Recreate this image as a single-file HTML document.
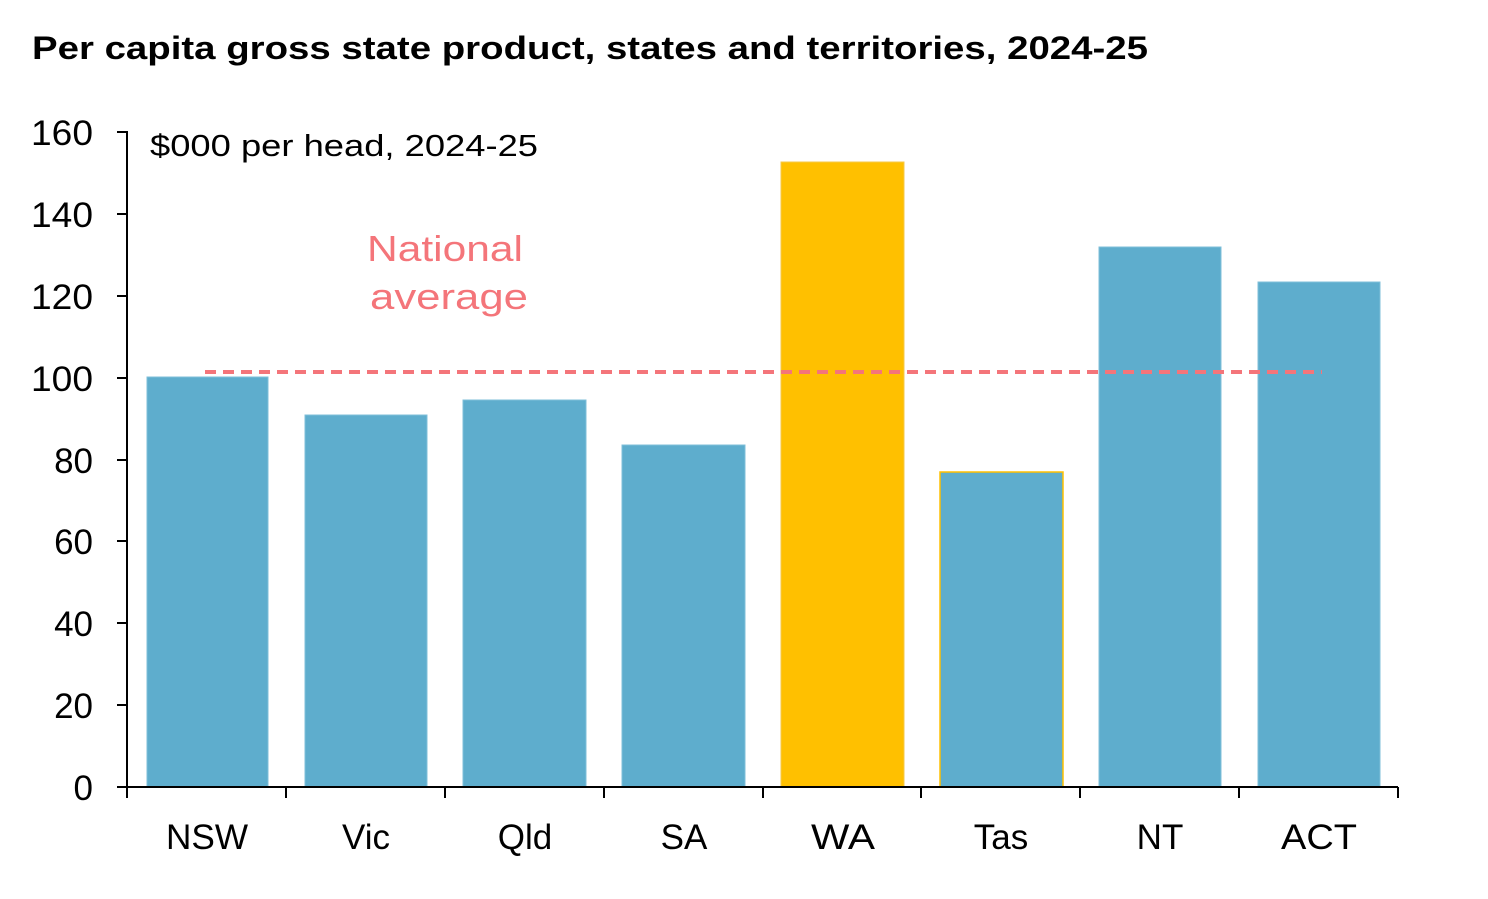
<!DOCTYPE html>
<html><head><meta charset="utf-8"><style>
html,body{margin:0;padding:0;background:#fff;}
svg text{font-family:"Liberation Sans",sans-serif;}
</style></head><body>
<svg width="1488" height="894" viewBox="0 0 1488 894" xmlns="http://www.w3.org/2000/svg">
<rect width="1488" height="894" fill="#fff"/>
<text x="32" y="59" font-size="32" font-weight="bold" fill="#000" textLength="1116" lengthAdjust="spacingAndGlyphs">Per capita gross state product, states and territories, 2024-25</text>
<g fill="#5eadcd" stroke="#7fbfd9" stroke-width="1">
<rect x="147" y="377" width="121" height="410"/>
<rect x="305" y="415" width="122" height="372"/>
<rect x="463" y="400" width="123" height="387"/>
<rect x="622" y="445" width="123" height="342"/>
<rect x="940" y="472" width="123" height="315" stroke="#ffc000" stroke-width="1.5"/>
<rect x="1099" y="247" width="122" height="540"/>
<rect x="1258" y="282" width="122" height="505"/>
</g>
<rect x="781" y="162" width="123" height="625" fill="#ffc000" stroke="#f5c84a"/>
<line x1="205" y1="372" x2="1322" y2="372" stroke="#f4757a" stroke-width="4" stroke-dasharray="11,7"/>
<g stroke="#000" stroke-width="2">
<line x1="127" y1="131" x2="127" y2="787"/>
<line x1="127" y1="787" x2="1398" y2="787"/>
<line x1="117" y1="132" x2="127" y2="132"/><line x1="117" y1="214" x2="127" y2="214"/>
<line x1="117" y1="296" x2="127" y2="296"/><line x1="117" y1="378" x2="127" y2="378"/>
<line x1="117" y1="460" x2="127" y2="460"/><line x1="117" y1="541" x2="127" y2="541"/>
<line x1="117" y1="623" x2="127" y2="623"/><line x1="117" y1="705" x2="127" y2="705"/>
<line x1="117" y1="787" x2="127" y2="787"/>
<line x1="127" y1="787" x2="127" y2="798"/><line x1="286" y1="787" x2="286" y2="798"/>
<line x1="445" y1="787" x2="445" y2="798"/><line x1="604" y1="787" x2="604" y2="798"/>
<line x1="763" y1="787" x2="763" y2="798"/><line x1="921" y1="787" x2="921" y2="798"/>
<line x1="1080" y1="787" x2="1080" y2="798"/><line x1="1239" y1="787" x2="1239" y2="798"/>
<line x1="1398" y1="787" x2="1398" y2="798"/>
</g>
<g font-size="35" fill="#000" text-anchor="end">
<text x="93" y="145" textLength="62" lengthAdjust="spacingAndGlyphs">160</text><text x="93" y="227" textLength="62" lengthAdjust="spacingAndGlyphs">140</text><text x="93" y="309" textLength="62" lengthAdjust="spacingAndGlyphs">120</text>
<text x="93" y="391" textLength="62" lengthAdjust="spacingAndGlyphs">100</text><text x="93" y="473">80</text><text x="93" y="554">60</text>
<text x="93" y="636">40</text><text x="93" y="718">20</text><text x="93" y="800">0</text>
</g>
<g font-size="35" fill="#000" text-anchor="middle">
<text x="207" y="849" textLength="82" lengthAdjust="spacingAndGlyphs">NSW</text><text x="366" y="849">Vic</text><text x="525" y="849">Qld</text>
<text x="684" y="849">SA</text><text x="843" y="849" textLength="64" lengthAdjust="spacingAndGlyphs">WA</text><text x="1001" y="849">Tas</text>
<text x="1160" y="849">NT</text><text x="1319" y="849" textLength="76" lengthAdjust="spacingAndGlyphs">ACT</text>
</g>
<text x="150" y="156" font-size="31" fill="#000" textLength="388" lengthAdjust="spacingAndGlyphs">$000 per head, 2024-25</text>
<g font-size="36" fill="#f4757a">
<text x="367" y="261" textLength="156" lengthAdjust="spacingAndGlyphs">National</text><text x="370" y="309" textLength="158" lengthAdjust="spacingAndGlyphs">average</text>
</g>
</svg>
</body></html>
